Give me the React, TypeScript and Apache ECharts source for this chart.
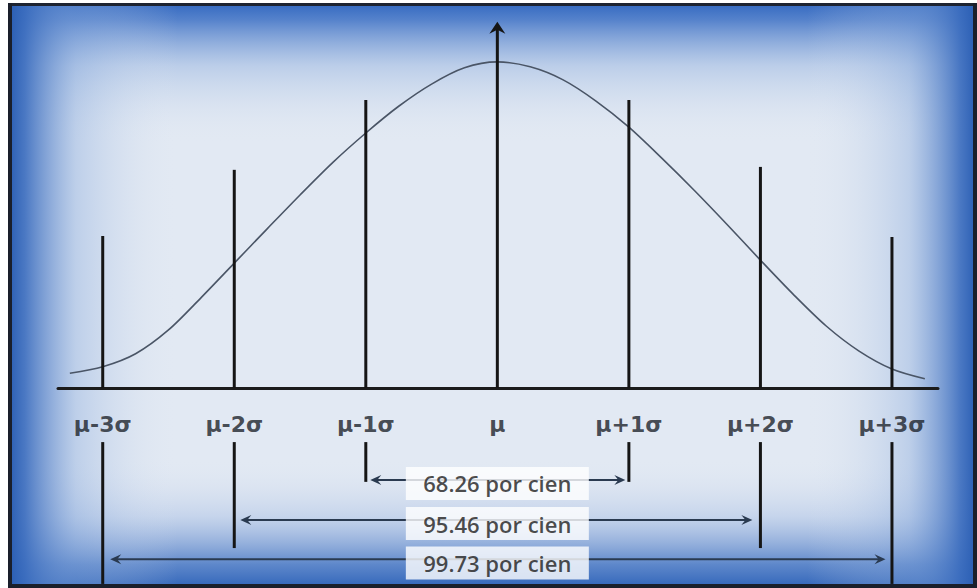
import React, { useEffect, useRef } from "react";
import * as echarts from "echarts";

// ---- data ----
const sigmaPositions = [-3, -2, -1, 0, 1, 2, 3];
const sigmaLabels = ["μ-3σ", "μ-2σ", "μ-1σ", "μ", "μ+1σ", "μ+2σ", "μ+3σ"];
const upperLineTops = [0.466, 0.669, 0.883, 1.11, 0.883, 0.678, 0.463];
const lowerLineTop = -0.166;
const lowerLineBottoms = [-0.601, -0.491, -0.288, null, -0.288, -0.491, -0.601];
const meanArrowTip = 1.123;

const curveX = [-3.25, -3.0, -2.75, -2.5, -2.25, -2.0, -1.75, -1.5, -1.25, -1.0, -0.75, -0.5, -0.25, 0, 0.25, 0.5, 0.75, 1.0, 1.25, 1.5, 1.75, 2.0, 2.25, 2.5, 2.75, 3.0, 3.25];
const curveY = [0.045, 0.065, 0.105, 0.178, 0.278, 0.383, 0.488, 0.592, 0.692, 0.782, 0.864, 0.932, 0.982, 1.0, 0.985, 0.945, 0.88, 0.8, 0.705, 0.605, 0.5, 0.392, 0.287, 0.19, 0.113, 0.058, 0.028];

const rangeLabels = ["68.26 por cien", "95.46 por cien", "99.73 por cien"];
const rangeLeft = [-0.966, -1.954, -2.943];
const rangeRight = [0.973, 1.939, 2.951];
const rangeArrowY = [-0.282, -0.405, -0.525];
const rangeBoxY = [-0.293, -0.416, -0.537];
const sigmaLabelY = -0.113;

const W = 977;
const H = 588;

export default function App() {
  const ref = useRef<HTMLDivElement>(null);

  useEffect(() => {
    document.body.style.margin = "0";
    const chart = echarts.init(ref.current!, null, { renderer: "svg" });

    const segments: any[] = [];
    sigmaPositions.forEach((x, i) => {
      segments.push([x, upperLineTops[i], 0]);
      const b = lowerLineBottoms[i];
      if (b !== null) segments.push([x, lowerLineTop, b]);
    });

    const lg = (x0: number, y0: number, x1: number, y1: number, stops: [number, string][]) =>
      new echarts.graphic.LinearGradient(
        x0, y0, x1, y1,
        stops.map(([offset, color]) => ({ offset, color }))
      );

    const option: any = {
      animation: false,
      backgroundColor: "#ffffff",
      grid: { left: 58, right: 39, top: 13, bottom: 0, containLabel: false },
      xAxis: {
        type: "value",
        min: -3.34,
        max: 3.35,
        axisLine: { show: true, onZero: true, lineStyle: { color: "#1b1b1b", width: 3 } },
        axisTick: { show: false },
        axisLabel: { show: false },
        splitLine: { show: false },
      },
      yAxis: {
        type: "value",
        min: -0.6135,
        max: 1.15,
        axisLine: { show: false },
        axisTick: { show: false },
        axisLabel: { show: false },
        splitLine: { show: false },
      },
      graphic: [
        { type: "rect", z: -10, shape: { x: 8, y: 3, width: W - 8, height: H - 3 }, style: { fill: "#e2e9f3" } },
        {
          type: "rect", z: -9, shape: { x: 8, y: 3, width: W - 8, height: 140 },
          style: { fill: lg(0, 0, 0, 1, [[0, "rgba(50,104,192,1)"], [0.12, "rgba(66,116,198,0.88)"], [0.45, "rgba(130,165,218,0.4)"], [1, "rgba(226,233,243,0)"]]) },
        },
        {
          type: "rect", z: -9, shape: { x: 8, y: H - 130, width: W - 8, height: 130 },
          style: { fill: lg(0, 1, 0, 0, [[0, "rgba(48,100,185,1)"], [0.18, "rgba(70,118,195,0.85)"], [0.55, "rgba(140,170,220,0.33)"], [1, "rgba(226,233,243,0)"]]) },
        },
        {
          type: "rect", z: -9, shape: { x: 8, y: 3, width: 170, height: H - 3 },
          style: { fill: lg(0, 0, 1, 0, [[0, "rgba(40,92,178,1)"], [0.1, "rgba(58,108,190,0.9)"], [0.4, "rgba(130,165,218,0.38)"], [1, "rgba(226,233,243,0)"]]) },
        },
        {
          type: "rect", z: -9, shape: { x: W - 170, y: 3, width: 170, height: H - 3 },
          style: { fill: lg(1, 0, 0, 0, [[0, "rgba(40,92,178,1)"], [0.1, "rgba(58,108,190,0.9)"], [0.4, "rgba(130,165,218,0.38)"], [1, "rgba(226,233,243,0)"]]) },
        },
        // frame
        { type: "rect", z: 100, shape: { x: 8, y: 3, width: W - 8, height: 3 }, style: { fill: "#1d2330" } },
        { type: "rect", z: 100, shape: { x: 8, y: 3, width: 4, height: H - 3 }, style: { fill: "#1a1f2b" } },
        { type: "rect", z: 100, shape: { x: W - 4, y: 3, width: 4, height: H - 3 }, style: { fill: "#1a1f2b" } },
        { type: "rect", z: 100, shape: { x: 8, y: H - 4, width: W - 8, height: 4 }, style: { fill: "#1a1f2b" } },
      ],
      series: [
        {
          type: "line",
          data: curveX.map((x, i) => [x, curveY[i]]),
          smooth: 0.3,
          symbol: "none",
          lineStyle: { color: "#4a5566", width: 1.6 },
          z: 2,
        },
        {
          type: "custom",
          z: 3,
          data: segments,
          encode: { x: 0, y: [1, 2] },
          renderItem: (params: any, api: any) => {
            const p1 = api.coord([api.value(0), api.value(1)]);
            const p2 = api.coord([api.value(0), api.value(2)]);
            return {
              type: "line",
              shape: { x1: p1[0], y1: p1[1], x2: p2[0], y2: p2[1] },
              style: { stroke: "#151515", lineWidth: 3 },
            };
          },
        },
        {
          type: "custom",
          z: 3,
          data: [[0, meanArrowTip]],
          renderItem: (params: any, api: any) => {
            const p = api.coord([api.value(0), api.value(1)]);
            return {
              type: "polygon",
              shape: { points: [[p[0], p[1]], [p[0] - 8, p[1] + 12], [p[0], p[1] + 8], [p[0] + 8, p[1] + 12]] },
              style: { fill: "#151515" },
            };
          },
        },
        {
          type: "custom",
          z: 4,
          data: rangeLeft.map((l, i) => [l, rangeRight[i], rangeArrowY[i]]),
          renderItem: (params: any, api: any) => {
            const a = api.coord([api.value(0), api.value(2)]);
            const b = api.coord([api.value(1), api.value(2)]);
            const c = "#2a3a50";
            return {
              type: "group",
              children: [
                { type: "line", shape: { x1: a[0] + 4, y1: a[1], x2: b[0] - 4, y2: b[1] }, style: { stroke: c, lineWidth: 2 } },
                { type: "polygon", shape: { points: [[a[0], a[1]], [a[0] + 11, a[1] - 5], [a[0] + 7, a[1]], [a[0] + 11, a[1] + 5]] }, style: { fill: c } },
                { type: "polygon", shape: { points: [[b[0], b[1]], [b[0] - 11, b[1] - 5], [b[0] - 7, b[1]], [b[0] - 11, b[1] + 5]] }, style: { fill: c } },
              ],
            };
          },
        },
        {
          type: "scatter",
          z: 5,
          symbolSize: 0,
          data: rangeLabels.map((name, i) => ({ name, value: [0, rangeBoxY[i]] })),
          label: {
            show: true,
            position: "inside",
            formatter: (p: any) => p.name,
            backgroundColor: "#ffffff",
            width: 183,
            height: 33,
            lineHeight: 33,
            align: "center",
            verticalAlign: "middle",
            fontFamily: "Open Sans",
            fontWeight: 600,
            fontSize: 22,
            color: "#1c1c1c",
          },
        },
        {
          type: "scatter",
          z: 5,
          symbolSize: 0,
          data: sigmaPositions.map((x, i) => ({ name: sigmaLabels[i], value: [x, sigmaLabelY] })),
          label: {
            show: true,
            position: "inside",
            formatter: (p: any) => p.name,
            fontFamily: "DejaVu Sans",
            fontWeight: "bold",
            fontSize: 22,
            color: "#1c222a",
          },
        },
      ],
    };

    chart.setOption(option);
    return () => chart.dispose();
  }, []);

  return <div ref={ref} style={{ position: "absolute", left: 0, top: 0, width: W, height: H }} />;
}
